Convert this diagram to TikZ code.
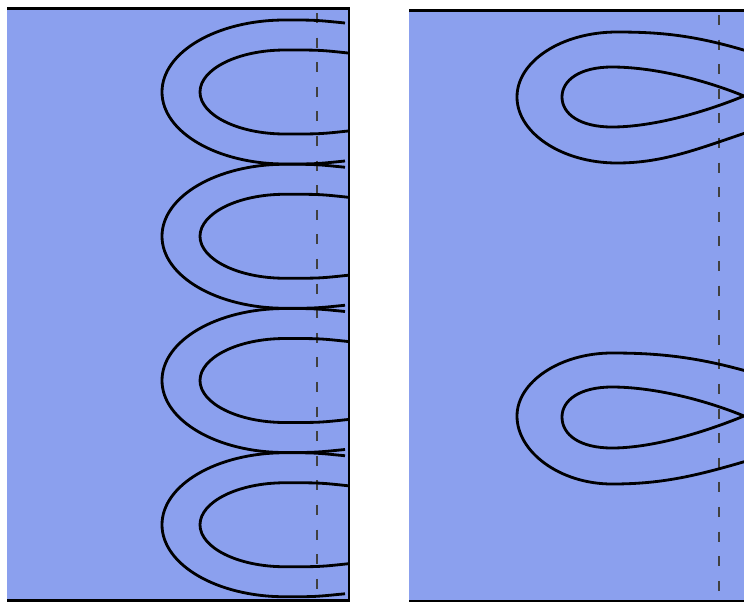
\documentclass[tikz,border=0pt]{standalone}
\usepackage{xcolor}
\usepackage{tikz}
\usetikzlibrary{positioning}
\definecolor{panelblue}{RGB}{139,160,238}

\begin{document}
\begin{tikzpicture}[x=0.02cm, y=-0.02cm,
  panel/.style={fill=panelblue},
  frame/.style={line width=1.5pt, black},
  curve/.style={line width=1.6pt, black},
  cutline/.style={line width=0.8pt, black!75, dash pattern=on 5.7pt off 8.3pt}]
  \useasboundingbox (0,0) rectangle (744,603);
  \clip (0,0) rectangle (744,603);

  % left panel
  \fill[panel] (7,8.5) rectangle (349,600.5);
  \draw[cutline] (317,13) -- (317,590);
  \foreach \c in {92,236.25,380.5,524.75} {
    \draw[curve] (345,\c-69) .. controls (315,\c-72) .. (285,\c-72)
      .. controls (217,\c-72) and (162,\c-40) .. (162,\c)
      .. controls (162,\c+40) and (217,\c+72) .. (285,\c+72)
      .. controls (315,\c+72) .. (345,\c+69);
    \draw[curve] (348,\c-39) .. controls (320,\c-42) .. (285,\c-42)
      .. controls (238,\c-42) and (200,\c-23) .. (200,\c)
      .. controls (200,\c+23) and (238,\c+42) .. (285,\c+42)
      .. controls (320,\c+42) .. (348,\c+39);
  }
  \draw[frame] (7,8.5) -- (349,8.5) -- (349,600.5) -- (7,600.5);

  % right panel
  \fill[panel] (409,10.5) rectangle (760,601);
  \draw[cutline] (719,15) -- (719,593);
  % upper loop
  \draw[curve] (760,55) .. controls (700,36) and (665,32) .. (617,32)
    .. controls (562,32) and (517,61) .. (517,97)
    .. controls (517,133) and (562,163) .. (617,163)
    .. controls (665,163) and (700,148) .. (760,128);
  \draw[curve] (744,96) .. controls (700,78) and (650,67) .. (612,67)
    .. controls (580,67) and (562,80) .. (562,97)
    .. controls (562,114) and (580,127) .. (612,127)
    .. controls (650,127) and (700,114) .. (744,96);
  % lower loop
  \draw[curve] (760,375) .. controls (700,357) and (660,353) .. (612,353)
    .. controls (560,353) and (517,382) .. (517,416)
    .. controls (517,452) and (560,484) .. (612,484)
    .. controls (665,484) and (700,475) .. (760,457);
  \draw[curve] (744,416) .. controls (700,398) and (650,387) .. (612,387)
    .. controls (580,387) and (562,400) .. (562,417)
    .. controls (562,435) and (580,448) .. (612,448)
    .. controls (650,448) and (700,434) .. (744,416);
  \draw[frame] (409,10.5) -- (760,10.5);
  \draw[frame] (409,601) -- (760,601);
\end{tikzpicture}
\end{document}
